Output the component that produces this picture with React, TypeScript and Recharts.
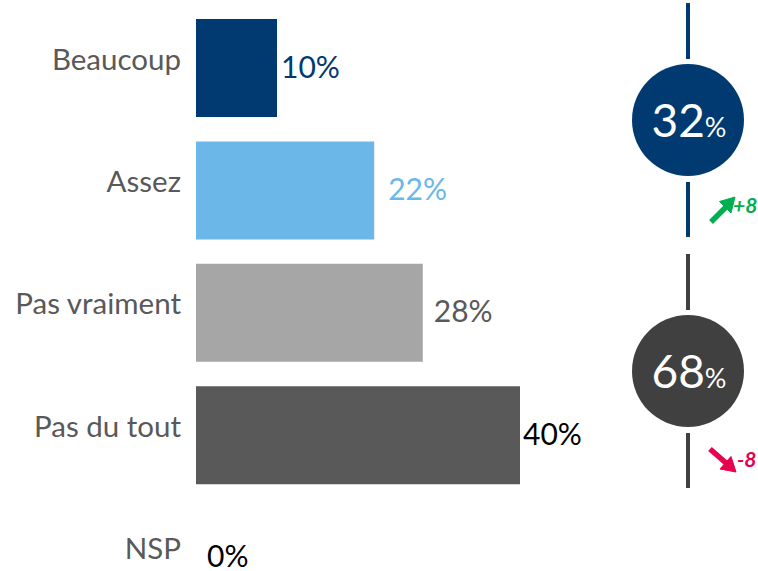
import React from 'react';
import { BarChart, Bar, XAxis, YAxis, Cell, LabelList } from 'recharts';

const categories = ['Beaucoup', 'Assez', 'Pas vraiment', 'Pas du tout', 'NSP'];
const values = [10, 22, 28, 40, 0];
const barColors = ['#003a70', '#6bb8e8', '#a6a6a6', '#595959', 'transparent'];
const labelColors = ['#003a70', '#6bb8e8', '#595959', '#000000', '#000000'];
const labelGaps = [4, 14, 11, 3, 10];

// summary bubbles on the right
const totals = [32, 68];
const totalColors = ['#003a70', '#404040'];
const deltas = ['+8', '-8'];
const deltaColors = ['#00b050', '#e8004f'];

const data = categories.map((name, i) => ({ name, value: values[i] }));
const FONT = 'Lato, "Noto Sans", sans-serif';

const ValueLabel = (props: any) => {
  const { x, y, width, height, value, index } = props;
  return (
    <text x={x + width + labelGaps[index]} y={y + height / 2 + 2} dominantBaseline="middle"
      fill={labelColors[index]} fontSize={30} fontFamily={FONT}>
      {value}%
    </text>
  );
};

const CatTick = (props: any) => {
  const { x, y, payload } = props;
  return (
    <text x={x} y={y - 6} textAnchor="end" dominantBaseline="middle" fill="#595959"
      fontSize={29.5} fontFamily={FONT}>
      {payload.value}
    </text>
  );
};

function Bubble({ cy, i }: { cy: number; i: number }) {
  const c = totalColors[i];
  const up = i === 0;
  const dc = deltaColors[i];
  return (
    <g>
      <line x1={688} y1={cy - 117} x2={688} y2={cy - 61} stroke={c} strokeWidth={4} />
      <line x1={688} y1={cy + 62} x2={688} y2={cy + 117} stroke={c} strokeWidth={4} />
      <circle cx={688} cy={cy} r={56} fill={c} />
      <text x={689} y={cy + 17} textAnchor="middle" fill="#fff" fontFamily={FONT}>
        <tspan fontSize={46}>{totals[i]}</tspan>
        <tspan fontSize={27}>%</tspan>
      </text>
      {up ? (
        <g fill={dc} stroke={dc}>
          <line x1={711} y1={cy + 102} x2={726} y2={cy + 87} strokeWidth={5.5} />
          <polygon points={`735,${cy + 77} 731,${cy + 93} 719.5,${cy + 81.5}`} strokeWidth={1} />
        </g>
      ) : (
        <g fill={dc} stroke={dc}>
          <line x1={710} y1={cy + 78} x2={726} y2={cy + 92} strokeWidth={5.5} />
          <polygon points={`736,${cy + 101} 720,${cy + 98} 731,${cy + 85.5}`} strokeWidth={1} />
        </g>
      )}
      <text x={up ? 733 : 737} y={up ? cy + 93 : cy + 96} fill={dc} fontSize={21} fontWeight={700}
        fontStyle="italic" fontFamily={FONT}>{deltas[i]}</text>
    </g>
  );
}

export default function App() {
  return (
    <div style={{ position: 'absolute', left: 0, top: 0, width: 758, height: 571, overflow: 'hidden', background: '#fff' }}>
      <BarChart width={758} height={625} data={data} layout="vertical"
        margin={{ top: 7, right: 157, bottom: 6, left: 0 }} barCategoryGap={0}>
        <XAxis type="number" domain={[0, 50]} hide />
        <YAxis type="category" dataKey="name" width={196} axisLine={false} tickLine={false}
          tickSize={0} tickMargin={15} tick={CatTick} />
        <Bar dataKey="value" barSize={98} minPointSize={1} isAnimationActive={false}>
          {data.map((_, i) => <Cell key={i} fill={barColors[i]} />)}
          <LabelList dataKey="value" content={ValueLabel} />
        </Bar>
      </BarChart>
      <svg width={758} height={571} style={{ position: 'absolute', left: 0, top: 0 }}>
        <Bubble cy={120} i={0} />
        <Bubble cy={371} i={1} />
      </svg>
    </div>
  );
}
